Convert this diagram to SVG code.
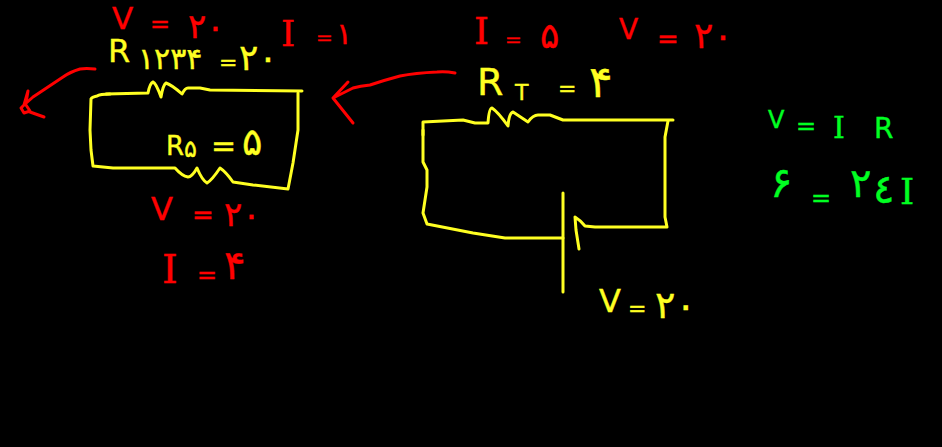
<svg xmlns="http://www.w3.org/2000/svg" width="942" height="447" viewBox="0 0 942 447">
<style>
.w{fill:none;stroke-width:3;stroke-linecap:round;stroke-linejoin:round}
.y{stroke:#ffff22}.r{stroke:#ff0000}
text{font-family:"DejaVu Sans",sans-serif;stroke-width:.4}
.i{font-family:"DejaVu Serif",serif}
.n{letter-spacing:-7px}
.ty{fill:#ffff22;stroke:#ffff22}.tr{fill:#ff0000;stroke:#ff0000}.tg{fill:#00ff22;stroke:#00ff22}
</style>
<rect width="942" height="447" fill="#000"/>
<g id="connectors">
<path class="w r" d="M95 69Q86 68 80 69Q70 72 63 77L33 97L24 105L28 91L26 103L21 108L24 113L30 111L26 105M30 112L44 117"/>
<path class="w r" d="M455 73Q445 71 437 72Q415 73 400 76Q385 80 370 85Q360 86 353 88L333 98L348 82M333 98L353 123"/>
</g>
<g id="left-circuit">
<path class="w y" d="M110 94Q100 94 97 96Q92 97 91 99L90 130L91 150L93 166L113 168L175 168Q182 176 188 177Q192 177 197 168Q202 180 207 183Q212 180 220 168Q226 172 233 182L253 185L288 189L293 163L298 130L298 93"/>
<path class="w y" d="M106 94L148 93Q150 83 153 82Q156 83 161 97Q163 85 166 83Q172 85 182 94Q185 88 188 88L200 88L210 90L302 91"/>
</g>
<g id="right-circuit">
<path class="w y" d="M423 135L423 122L463 120L475 123L488 123Q489 108 492 108Q498 112 508 126Q509 113 513 112L528 122Q533 115 538 115L550 115L563 120L673 120"/>
<path class="w y" d="M668 121L665 137L665 217L667 227L595 227L585 226Q580 220 575 217L576 230L579 249"/>
<path class="w y" d="M563 193L563 292"/>
<path class="w y" d="M563 238L505 238L473 233L427 224L423 213L427 187L427 170L423 162L423 130"/>
</g>
<g id="labels">
<text class="tr"><tspan x="112" y="29" font-size="31">V</tspan><tspan x="150" y="32" font-size="24">=</tspan><tspan class="n" x="188" y="38" font-size="34">۲۰</tspan></text>
<text class="tr"><tspan class="i" x="281" y="46" font-size="36">I</tspan><tspan x="316" y="44" font-size="20">=</tspan><tspan x="336" y="44" font-size="30">۱</tspan></text>
<text class="ty"><tspan x="108" y="62" font-size="32">R</tspan><tspan x="138" y="69" font-size="30">۱۲۳۴</tspan><tspan x="219" y="70" font-size="22">=</tspan><tspan class="n" x="239" y="70" font-size="36">۲۰</tspan></text>
<text class="tr"><tspan class="i" x="474" y="44" font-size="38">I</tspan><tspan x="505" y="46" font-size="20">=</tspan><tspan x="540" y="48" font-size="36">۵</tspan></text>
<text class="tr"><tspan x="619" y="39" font-size="28">V</tspan><tspan x="657" y="48" font-size="26">=</tspan><tspan class="n" x="694" y="48" font-size="36">۲۰</tspan></text>
<text class="ty"><tspan x="477" y="95" font-size="38">R</tspan><tspan x="515" y="100" font-size="22">T</tspan><tspan x="558" y="96" font-size="22">=</tspan><tspan x="589" y="97" font-size="44">۴</tspan></text>
<text class="ty"><tspan x="166" y="155" font-size="26">R</tspan><tspan x="184" y="157" font-size="24">۵</tspan><tspan x="211" y="156" font-size="30">=</tspan><tspan x="242" y="155" font-size="38">۵</tspan></text>
<text class="tr"><tspan x="151" y="220" font-size="32">V</tspan><tspan x="192" y="224" font-size="26">=</tspan><tspan class="n" x="224" y="226" font-size="34">۲۰</tspan></text>
<text class="tr"><tspan class="i" x="162" y="283" font-size="40">I</tspan><tspan x="197" y="283" font-size="24">=</tspan><tspan x="224" y="279" font-size="40">۴</tspan></text>
<text class="ty"><tspan x="599" y="312" font-size="32">V</tspan><tspan x="628" y="316" font-size="22">=</tspan><tspan class="n" x="655" y="318" font-size="38">۲۰</tspan></text>
<text class="tg"><tspan x="768" y="128" font-size="24">V</tspan><tspan x="796" y="134" font-size="24">=</tspan><tspan class="i" x="833" y="138" font-size="30">I</tspan><tspan x="874" y="138" font-size="28">R</tspan></text>
<text class="tg"><tspan x="770" y="197" font-size="42">۶</tspan><tspan x="811" y="206" font-size="24">=</tspan><tspan x="850" y="197" font-size="40">۲</tspan><tspan x="873" y="203" font-size="40">٤</tspan><tspan class="i" x="900" y="204" font-size="36">I</tspan></text>
</g>
</svg>
